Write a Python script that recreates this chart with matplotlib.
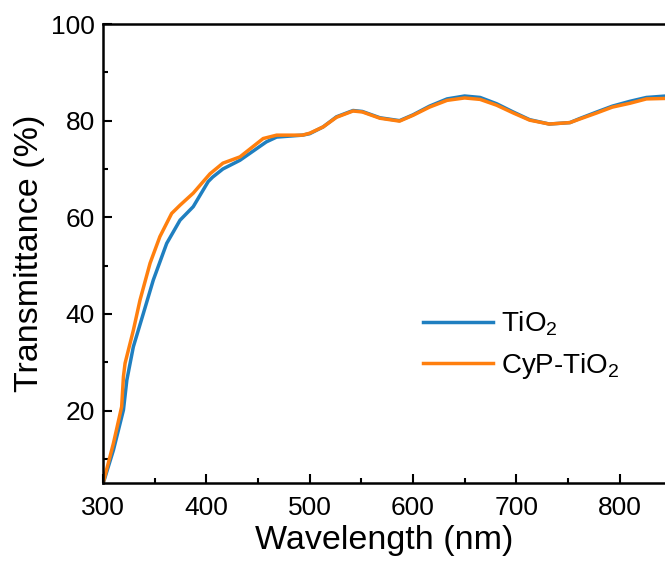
import matplotlib
matplotlib.use("Agg")
import matplotlib.pyplot as plt
from matplotlib.ticker import MultipleLocator

plt.rcParams['font.family'] = ['Liberation Sans', 'DejaVu Sans']
plt.rcParams['mathtext.fontset'] = 'custom'
plt.rcParams['mathtext.rm'] = 'Liberation Sans'

# wavelength (nm) / transmittance (%)
wl_tio2 = [300.5, 310, 319.7, 323, 329.3, 339, 348.6, 361.6, 374.5, 387.3, 401.8,
           406, 416, 432.5, 458, 468, 493, 500, 513, 526, 542, 551, 568, 587,
           600, 616, 633, 650, 665, 681, 697, 713, 732, 752, 761, 778, 793,
           810, 826, 845]
t_tio2 = [5.2, 11.8, 20.1, 26.3, 33.2, 40.1, 47.0, 54.6, 59.4, 62.2, 67.4,
          68.3, 70.0, 71.8, 75.6, 76.6, 77.0, 77.3, 78.7, 80.8, 82.1, 81.9, 80.6, 80.0,
          81.2, 83.0, 84.5, 85.1, 84.8, 83.5, 81.8, 80.2, 79.3, 79.6, 80.4, 81.8, 83.0,
          84.0, 84.8, 85.1]

wl_cyp = [300.3, 310, 318, 319.7, 321.3, 329.3, 335.8, 345.5, 355, 366.4, 374.5,
          387.3, 397, 403.5, 416, 432.5, 455, 468, 493, 500, 513, 526, 542, 551,
          568, 587, 600, 616, 633, 650, 665, 681, 697, 713, 732, 752, 761, 778,
          793, 810, 826, 845]
t_cyp = [5.2, 13.2, 20.8, 27.0, 29.8, 36.6, 42.9, 50.5, 56.0, 60.8, 62.5,
         65.0, 67.4, 69.0, 71.2, 72.5, 76.3, 77.0, 77.0, 77.4, 78.7, 80.7, 82.0, 81.8,
         80.5, 79.9, 81.1, 82.8, 84.2, 84.7, 84.4, 83.2, 81.6, 80.1, 79.3, 79.6, 80.3, 81.6,
         82.8, 83.6, 84.5, 84.6]

fig = plt.figure(figsize=(6.65, 5.64), dpi=100)
ax = fig.add_axes([0.155, 0.1436, 0.845, 0.8138])

ax.plot(wl_tio2, t_tio2, color='#1f7fc0', lw=2.5, label=r'$\mathregular{TiO_2}$')
ax.plot(wl_cyp, t_cyp, color='#ff7f0e', lw=2.5, label=r'$\mathregular{CyP\text{-}TiO_2}$')

ax.set_xlim(300, 844)
ax.set_ylim(5, 100)
ax.xaxis.set_major_locator(MultipleLocator(100))
ax.xaxis.set_minor_locator(MultipleLocator(50))
ax.yaxis.set_major_locator(MultipleLocator(20))
ax.yaxis.set_minor_locator(MultipleLocator(10))
ax.tick_params(which='both', direction='in', width=1.5, labelsize=19, right=False, top=False)
ax.tick_params(which='major', length=6.5)
ax.tick_params(which='minor', length=3.5)
ax.tick_params(axis='x', which='major', pad=9)
ax.tick_params(axis='y', which='major', pad=6)
ax.spines['right'].set_visible(False)
for s in ['left', 'bottom', 'top']:
    ax.spines[s].set_linewidth(1.8)

ax.set_xlabel('Wavelength (nm)', fontsize=24.5, labelpad=4)
ax.set_ylabel('Transmittance (%)', fontsize=24.5, labelpad=4)

ax.legend(loc='center left', bbox_to_anchor=(0.525, 0.30), frameon=False,
          fontsize=20, handlelength=2.5, handletextpad=0.3, labelspacing=0.45)

fig.savefig('out.png', dpi=100)
